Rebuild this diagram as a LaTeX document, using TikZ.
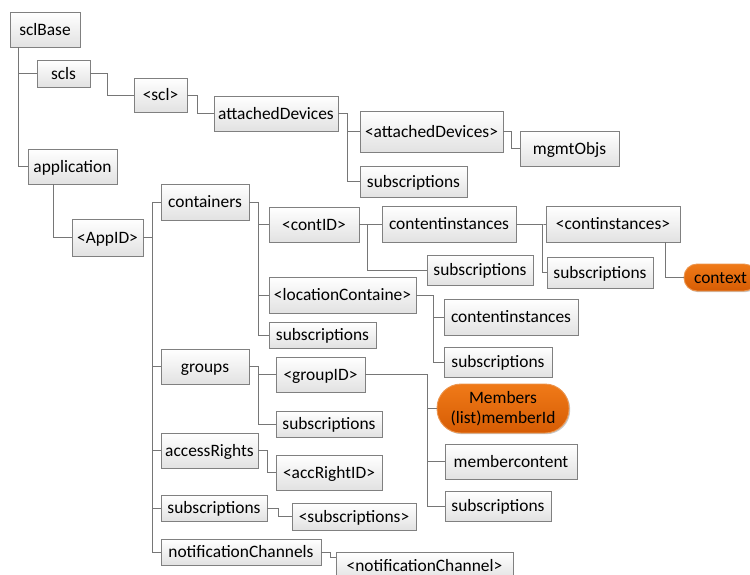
\documentclass[tikz,border=0pt]{standalone}
\usepackage{fontspec}
\setmainfont{Carlito}
\usetikzlibrary{calc,shadows}

\definecolor{boxline}{RGB}{128,128,128}
\definecolor{linkline}{RGB}{118,118,118}
\definecolor{boxbottom}{RGB}{226,226,226}
\definecolor{orangetop}{RGB}{240,122,24}
\definecolor{orangebot}{RGB}{214,92,4}
\definecolor{orangeedge}{RGB}{236,150,80}

\tikzset{
  tbox/.style={draw=boxline, line width=0.9pt, top color=white, bottom color=boxbottom,
    inner sep=0pt, text height=11.2pt, text depth=0pt,
    font=\fontsize{17.4}{20.5}\selectfont,
    drop shadow={shadow xshift=1.2pt, shadow yshift=-1.2pt, opacity=0.22, fill=black}},
  obox/.style={tbox, draw=orangeedge, top color=orangetop, bottom color=orangebot,
    rounded corners=13pt},
  link/.style={draw=linkline, line width=1pt}
}

% \tbox[style]{name}{x1}{y1}{x2}{y2}{text}
\newcommand\tbox[7][tbox]{%
  \node[#1, minimum width={#5-#3}, minimum height={#6-#4}]
    (#2) at ({(#3+#5)/2},{(#4+#6)/2}) {#7};}

\begin{document}
\begin{tikzpicture}[x=1pt,y=-1pt]
\useasboundingbox (0,0) rectangle (750,574);

% resource tree nodes
\tbox{sclBase}{10}{12}{80}{47}{sclBase}
\tbox{scls}{37}{60}{90}{87}{scls}
\tbox{scl}{134}{78}{187}{112}{<scl>}
\tbox{attDev}{214}{96}{338}{131}{attachedDevices}
\tbox{attDevI}{360}{111}{503}{152}{<attachedDevices>}
\tbox{mgmt}{520}{131}{619}{166}{mgmtObjs}
\tbox{subAD}{360}{166}{467}{197}{subscriptions}
\tbox{app}{28}{149}{117}{184}{application}
\tbox{AppID}{72}{219}{143}{256}{<AppID>}
\tbox{containers}{161}{184}{249}{220}{containers}
\tbox{contID}{269}{207}{359}{242}{<contID>}
\tbox{contInst}{382}{206}{516}{242}{contentinstances}
\tbox{contInstI}{546}{206}{680}{242}{<continstances>}
\tbox{subCID}{427}{255}{533}{285}{subscriptions}
\tbox{subCI}{547}{257}{653}{288}{subscriptions}
\tbox[obox]{context}{684}{264}{757}{291}{context}
\tbox{locCont}{269}{277}{416}{313}{<locationContaine>}
\tbox{contInstB}{444}{299}{578}{335}{contentinstances}
\tbox{subLoc}{444}{347}{552}{377}{subscriptions}
\tbox{subCont}{269}{322}{376}{348}{subscriptions}
\tbox{groups}{161}{349}{249}{384}{groups}
\tbox{groupID}{276}{357}{365}{392}{<groupID>}
\tbox{subGrp}{276}{411}{382}{437}{subscriptions}
\node[obox, rounded corners=24pt, minimum width=132, minimum height=49,
  text height=, text depth=, align=center]
  (members) at (503,408.5) {Members\\[-1pt](list)memberId};
\tbox{memberC}{445}{444}{577}{479}{membercontent}
\tbox{subGID}{445}{491}{551}{521}{subscriptions}
\tbox{accR}{161}{433}{258}{468}{accessRights}
\tbox{accRID}{276}{455}{382}{490}{<accRightID>}
\tbox{subApp}{161}{495}{267}{521}{subscriptions}
\tbox{subI}{292}{503}{416}{530}{<subscriptions>}
\tbox{notif}{161}{539}{321}{565}{notificationChannels}
\tbox{notifI}{336}{552}{513}{580}{<notificationChannel>}

% connectors
\begin{scope}[link]
\draw ($(sclBase.south west)+(9,0)$) |- (scls.west);
\draw ($(sclBase.south west)+(9,0)$) |- (app.west);
\draw (scls.east) -- ++(17,0) |- (scl.west);
\draw (scl.east) -- ++(10,0) |- (attDev.west);
\draw (attDev.east) -- ++(9,0) |- (attDevI.west);
\draw (attDev.east) -- ++(9,0) |- (subAD.west);
\draw (attDevI.east) -- ++(8,0) |- (mgmt.west);
\draw ($(app.south west)+(26,0)$) |- (AppID.west);
\foreach \c in {containers,groups,accR,subApp,notif}
  \draw (AppID.east) -- ++(9,0) |- (\c.west);
\foreach \c in {contID,locCont,subCont}
  \draw (containers.east) -- ++(9,0) |- (\c.west);
\draw (contID.east) -- ++(8,0) |- (contInst.west);
\draw (contID.east) -- ++(8,0) |- (subCID.west);
\draw (contInst.east) -- ++(26,0) |- (contInstI.west);
\draw (contInst.east) -- ++(26,0) |- (subCI.west);
\draw ($(contInstI.south west)+(120,0)$) |- (context.west);
\draw (locCont.east) -- ++(17,0) |- (contInstB.west);
\draw (locCont.east) -- ++(17,0) |- (subLoc.west);
\draw (groups.east) -- ++(9,0) |- (groupID.west);
\draw (groups.east) -- ++(9,0) |- (subGrp.west);
\foreach \c in {members,memberC,subGID}
  \draw (groupID.east) -- ++(62,0) |- (\c.west);
\draw (accR.east) -- ++(9,0) |- (accRID.west);
\draw (subApp.east) -- ++(11,0) |- (subI.west);
\draw (notif.east) -- ++(9,0) |- ($(notifI.north west)+(0,6)$);
\end{scope}
\end{tikzpicture}
\end{document}
